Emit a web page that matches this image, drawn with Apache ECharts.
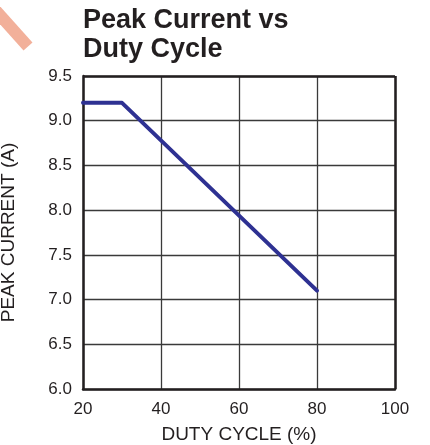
<!DOCTYPE html>
<html><head><meta charset="utf-8">
<script src="https://cdn.jsdelivr.net/npm/echarts@6/dist/echarts.min.js"></script>
<style>html,body{margin:0;padding:0;background:#fff}#c{width:430px;height:445px}</style>
</head><body><div id="c"></div>
<script>
const titleText = 'Peak Current vs\nDuty Cycle';
const xName = 'DUTY CYCLE (%)';
const yName = 'PEAK CURRENT (A)';
const dutyCycle = [20, 30, 80];
const peakCurrent = [9.2, 9.2, 7.1];
const xMin = 20, xMax = 100, xStep = 20;
const yMin = 6.0, yMax = 9.5, yStep = 0.5;

const chart = echarts.init(document.getElementById('c'), null, {renderer: 'canvas'});
const font = '"Liberation Sans", Arial, sans-serif';
chart.setOption({
  animation: false,
  backgroundColor: '#fff',
  title: {
    text: titleText, left: 83, top: 6, padding: 0,
    textStyle: {fontFamily: font, fontWeight: 'bold', fontSize: 27, lineHeight: 29, color: '#231f20'}
  },
  graphic: [{
    type: 'line', silent: true,
    shape: {x1: -10, y1: 4, x2: 28, y2: 46.5},
    style: {stroke: '#f2b09a', lineWidth: 12, lineCap: 'butt'}
  }],
  grid: {left: 83, right: 35, top: 76, bottom: 56, outerBoundsMode: 'none'},
  xAxis: {
    type: 'value', min: xMin, max: xMax, interval: xStep,
    name: xName, nameLocation: 'middle', nameGap: 36, nameMoveOverlap: false,
    nameTextStyle: {fontFamily: font, fontSize: 19, color: '#231f20'},
    axisLine: {show: true, lineStyle: {color: '#231f20', width: 2.5}},
    axisTick: {show: false},
    axisLabel: {fontFamily: font, fontSize: 17, color: '#231f20', margin: 12,
      formatter: v => String(v)},
    splitLine: {show: true, lineStyle: {color: '#3a3a3a', width: 1.3}}
  },
  yAxis: {
    type: 'value', min: yMin, max: yMax, interval: yStep,
    name: yName, nameLocation: 'middle', nameGap: 65, nameRotate: 90, nameMoveOverlap: false,
    nameTextStyle: {fontFamily: font, fontSize: 19, color: '#231f20'},
    axisLine: {show: true, onZero: false, lineStyle: {color: '#231f20', width: 2.5}},
    axisTick: {show: false},
    axisLabel: {fontFamily: font, fontSize: 17, color: '#231f20', margin: 11,
      formatter: v => v.toFixed(1)},
    splitLine: {show: true, lineStyle: {color: '#3a3a3a', width: 1.3}}
  },
  series: [{
    type: 'line',
    data: dutyCycle.map((x, i) => [x, peakCurrent[i]]),
    showSymbol: false,
    lineStyle: {color: '#2e3192', width: 4, cap: 'round', join: 'round'},
    z: 5
  }, {
    type: 'line', data: [], silent: true,
    markLine: {
      silent: true, symbol: 'none', label: {show: false},
      lineStyle: {color: '#231f20', width: 2.5, type: 'solid'},
      data: [
        [{coord: [xMin, yMax]}, {coord: [xMax, yMax]}],
        [{coord: [xMax, yMin]}, {coord: [xMax, yMax]}]
      ]
    }
  }]
});
</script></body></html>
